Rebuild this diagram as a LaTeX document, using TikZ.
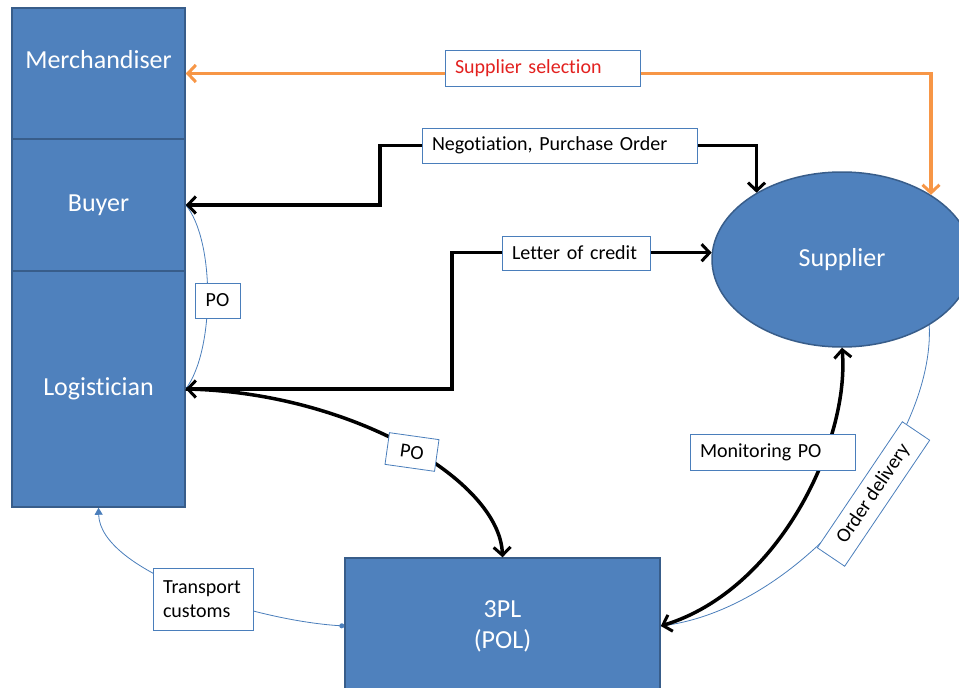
\documentclass[tikz,border=0pt]{standalone}
\usepackage{fontspec}
\setmainfont{Carlito}[Ligatures={NoCommon,NoContextual},WordSpace={0.8}]
\usetikzlibrary{shapes.geometric,arrows.meta}
\definecolor{boxblue}{HTML}{4F81BD}
\definecolor{boxedge}{HTML}{385D8A}
\definecolor{linkblue}{HTML}{4A7EBB}
\definecolor{selorange}{HTML}{F79646}
\definecolor{selred}{HTML}{E3211F}

\begin{document}
\begin{tikzpicture}[x=1pt,y=-1pt,
  role/.style={draw=boxedge, line width=1.5pt, fill=boxblue, text=white,
    font=\fontsize{26}{31}\selectfont, inner sep=0pt, align=center},
  roletext/.style={text=white, font=\fontsize{26}{31}\selectfont, inner sep=0pt},
  lbl/.style={draw=linkblue, line width=0.8pt, fill=white,
    font=\fontsize{20}{24}\selectfont, inner xsep=10pt, inner ysep=0pt},
  barb/.tip={Straight Barb[length=8pt,width=17pt,line width=3pt]},
  flow/.style={line width=3.5pt, black, barb-barb},
  flowend/.style={line width=3.5pt, black, -barb},
  sel/.style={line width=3.5pt, selorange, barb-barb},
  link/.style={line width=0.8pt, linkblue}
]
\useasboundingbox (0,0) rectangle (959,688);
\clip (0,0) rectangle (959,688);

% roles
\node[role, minimum width=173pt, minimum height=131pt] (merch) at (98.5,73.5) {};
\node[roletext] (merchtxt) at (98.5,60) {Merchandiser};
\node[role, minimum width=173pt, minimum height=132pt] (buyer) at (98.5,205) {Buyer};
\node[role, minimum width=173pt, minimum height=236pt] (logist) at (98.5,389) {Logistician};
\node[role, ellipse, minimum width=260pt, minimum height=175pt] (sup) at (842,259.5) {Supplier};
\node[role, minimum width=315pt, minimum height=136pt] (tpl) at (502.5,626) {3PL\\(POL)};

% thin links
\draw[link] (buyer.east) .. controls (215,240) and (215,350) .. (logist.east);
\draw[link] (sup.-37) .. controls (935,440) and (800,610) .. (tpl.east);
\draw[link, {Circle[length=5pt]}-{Triangle[length=7pt,width=8pt]}]
  (tpl.west) .. controls (250,620) and (100,570) .. (logist.south);

% main flows
\draw[sel] (merch.east) -| (sup.36);
\draw[flow] (buyer.east) -| (380,145.5) -| (sup.142);
\draw[flow] (logist.east) -- (452,389) |- (sup.177.5);
\draw[flowend] (logist.east) .. controls (350,392) and (500,480) .. (tpl.north);
\draw[flow] (tpl.east) .. controls (780,590) and (850,440) .. (sup.south);

% labels
\node[lbl, text=selred, text width=175pt, align=left, minimum height=36pt] (sellbl) at (542.5,68) {Supplier selection};
\node[lbl, text width=255pt, align=left, minimum height=35pt] (negolbl) at (559.5,145.5) {Negotiation, Purchase Order};
\node[lbl, inner xsep=10pt, text width=128pt, align=left, minimum height=34pt] (lclbl) at (576,253) {Letter of credit};
\node[lbl, inner xsep=0pt, minimum width=45pt, minimum height=35pt] (poa) at (217.5,300.5) {PO};
\node[lbl, inner xsep=0pt, minimum width=50pt, minimum height=32pt, rotate=-8] (pob) at (412,452) {PO};
\node[lbl, text width=145pt, align=left, minimum height=36pt] (monlbl) at (772.5,452) {Monitoring PO};
\node[lbl, inner xsep=0pt, minimum width=152pt, minimum height=33pt, rotate=56] (odlbl) at (873.5,494) {Order delivery};
\node[lbl, text width=80pt, align=left, minimum height=62pt] (tclbl) at (203,599) {Transport\\customs};
\end{tikzpicture}
\end{document}
